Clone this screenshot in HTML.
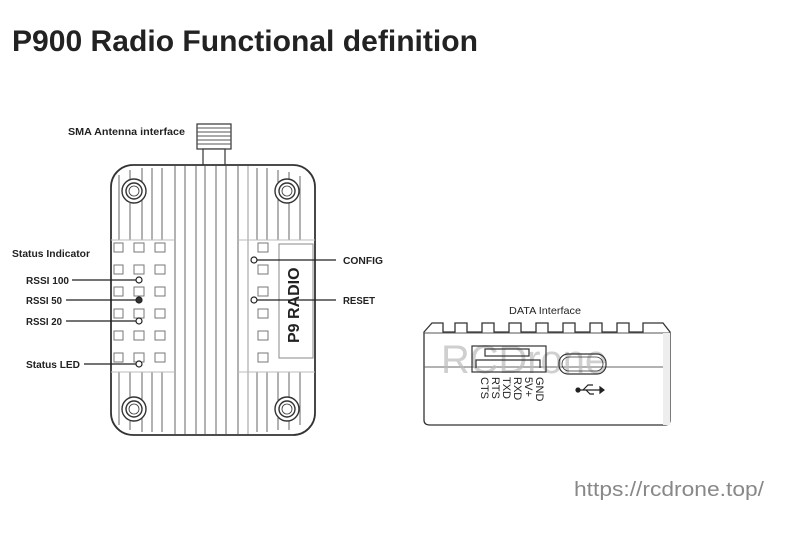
<!DOCTYPE html>
<html><head><style>body{margin:0;background:#fff}svg{display:block}</style></head><body>
<svg width="800" height="535" viewBox="0 0 800 535" xmlns="http://www.w3.org/2000/svg" font-family="Liberation Sans, sans-serif">
<text x="12" y="51" font-size="30" font-weight="bold" fill="#222" textLength="466" lengthAdjust="spacingAndGlyphs">P900 Radio Functional definition</text>
<g font-size="10.5" font-weight="bold" fill="#222" lengthAdjust="spacingAndGlyphs">
<text x="68" y="135" textLength="117" lengthAdjust="spacingAndGlyphs">SMA Antenna interface</text>
<text x="12" y="257" textLength="78" lengthAdjust="spacingAndGlyphs">Status Indicator</text>
<text x="26" y="284" textLength="43" lengthAdjust="spacingAndGlyphs">RSSI 100</text>
<text x="26" y="304" textLength="36" lengthAdjust="spacingAndGlyphs">RSSI 50</text>
<text x="26" y="325" textLength="36" lengthAdjust="spacingAndGlyphs">RSSI 20</text>
<text x="26" y="368" textLength="54" lengthAdjust="spacingAndGlyphs">Status LED</text>
<text x="343" y="264" textLength="40" lengthAdjust="spacingAndGlyphs">CONFIG</text>
<text x="343" y="304" textLength="32" lengthAdjust="spacingAndGlyphs">RESET</text>
<text x="509" y="314" font-weight="normal" textLength="72" lengthAdjust="spacingAndGlyphs">DATA Interface</text>
</g>
<g stroke="#333" fill="#fff" stroke-width="1.2">
<rect x="197" y="124" width="34" height="25"/>
<rect x="203" y="149" width="22" height="17"/>
</g>
<g stroke="#555" stroke-width="1">
<line x1="197" y1="128" x2="231" y2="128"/><line x1="197" y1="132" x2="231" y2="132"/><line x1="197" y1="136" x2="231" y2="136"/><line x1="197" y1="140" x2="231" y2="140"/><line x1="197" y1="144" x2="231" y2="144"/>
</g>
<rect x="111" y="165" width="204" height="270" rx="22" fill="#fff" stroke="#333" stroke-width="1.8"/>
<g stroke="#666" stroke-width="1" fill="none">
<path d="M119 175V240M130 170V240M142 168V240M152 168V240M162 168V240M119 372V425M130 372V430M142 372V432M152 372V432M162 372V432"/>
<path d="M175 166V434M185 166V434M196 166V434M205 166V434M216 166V434M226 166V434M238 166V434M257 168V240M267 168V240M278 170V240M289 172V240M300 176V240M257 372V432M267 372V432M278 372V430M289 372V430M300 372V425"/>
<path d="M248 166V434" stroke="#999"/>
<path d="M111 240H175M238 240H315M111 372H175M238 372H315" stroke="#bbb"/>
</g>
<g fill="#fff" stroke="#777" stroke-width="1">
<g id="sq"><rect x="114" y="243" width="9" height="9"/><rect x="134" y="243" width="10" height="9"/><rect x="155" y="243" width="10" height="9"/></g>
<use href="#sq" y="22"/><use href="#sq" y="44"/><use href="#sq" y="66"/><use href="#sq" y="88"/><use href="#sq" y="110"/>
<rect x="258" y="243" width="10" height="9"/><rect x="258" y="265" width="10" height="9"/><rect x="258" y="287" width="10" height="9"/><rect x="258" y="309" width="10" height="9"/><rect x="258" y="331" width="10" height="9"/><rect x="258" y="353" width="10" height="9"/>
<rect x="279" y="244" width="34" height="114" stroke="#888"/>
</g>
<text transform="translate(299,343) rotate(-90)" font-size="16" font-weight="bold" fill="#222">P9 RADIO</text>
<g fill="#fff" stroke="#333" stroke-width="1.4">
<g id="b"><circle cx="134" cy="191" r="12"/><circle cx="134" cy="191" r="8"/><circle cx="134" cy="191" r="5" stroke-width="0.8"/></g>
<use href="#b" x="153"/><use href="#b" y="218"/><use href="#b" x="153" y="218"/>
</g>
<g stroke="#222" stroke-width="1.2" fill="#fff">
<line x1="72" y1="280" x2="136" y2="280"/><line x1="66" y1="300" x2="136" y2="300"/><line x1="66" y1="321" x2="136" y2="321"/><line x1="84" y1="364" x2="136" y2="364"/>
<line x1="257" y1="260" x2="336" y2="260"/><line x1="257" y1="300" x2="336" y2="300"/>
<circle cx="139" cy="280" r="3"/><circle cx="139" cy="300" r="3" fill="#333"/><circle cx="139" cy="321" r="3"/><circle cx="139" cy="364" r="3"/>
<circle cx="254" cy="260" r="3"/><circle cx="254" cy="300" r="3"/>
</g>
<path d="M424 332 L432 323 H443 V332 H455 V323 H467 V332 H482 V323 H494 V332 H509 V323 H521 V332 H536 V323 H548 V332 H563 V323 H575 V332 H590 V323 H602 V332 H617 V323 H629 V332 H643 V323 H663 L670 332 V420 Q670 425 665 425 H430 Q424 425 424 420 Z" fill="#fff" stroke="#333" stroke-width="1.3"/>
<line x1="424" y1="333" x2="670" y2="333" stroke="#555"/>
<line x1="424" y1="367" x2="670" y2="367" stroke="#666"/>
<rect x="663" y="333" width="7" height="92" fill="#eee"/>
<text x="441" y="373" font-size="40" fill="#bbb" opacity="0.7" textLength="166" lengthAdjust="spacingAndGlyphs">RCDrone</text>
<g fill="none" stroke="#333" stroke-width="1.2">
<rect x="472" y="346" width="74" height="26"/>
<rect x="485" y="349" width="44" height="7"/>
<path d="M476 368V360H540V368"/>
<rect x="559" y="354" width="47" height="20" rx="9"/>
<rect x="562" y="357" width="41" height="14" rx="7" stroke-width="0.8"/>
</g>
<g font-size="11" fill="#222">
<text transform="translate(536,377) rotate(90)">GND</text>
<text transform="translate(525,377) rotate(90)">5V+</text>
<text transform="translate(514,377) rotate(90)">RXD</text>
<text transform="translate(503,377) rotate(90)">TXD</text>
<text transform="translate(492,377) rotate(90)">RTS</text>
<text transform="translate(481,377) rotate(90)">CTS</text>
</g>
<g stroke="#222" stroke-width="1.2" fill="#222">
<circle cx="578" cy="390" r="2"/><line x1="578" y1="390" x2="600" y2="390"/>
<path d="M583 390L588 385H593M586 390L590 394H594" fill="none"/>
<path d="M600 387L604 390L600 393Z"/>
</g>
<text x="574" y="496" font-size="20" fill="#888" textLength="190" lengthAdjust="spacingAndGlyphs">https://rcdrone.top/</text>
</svg>
</body></html>
